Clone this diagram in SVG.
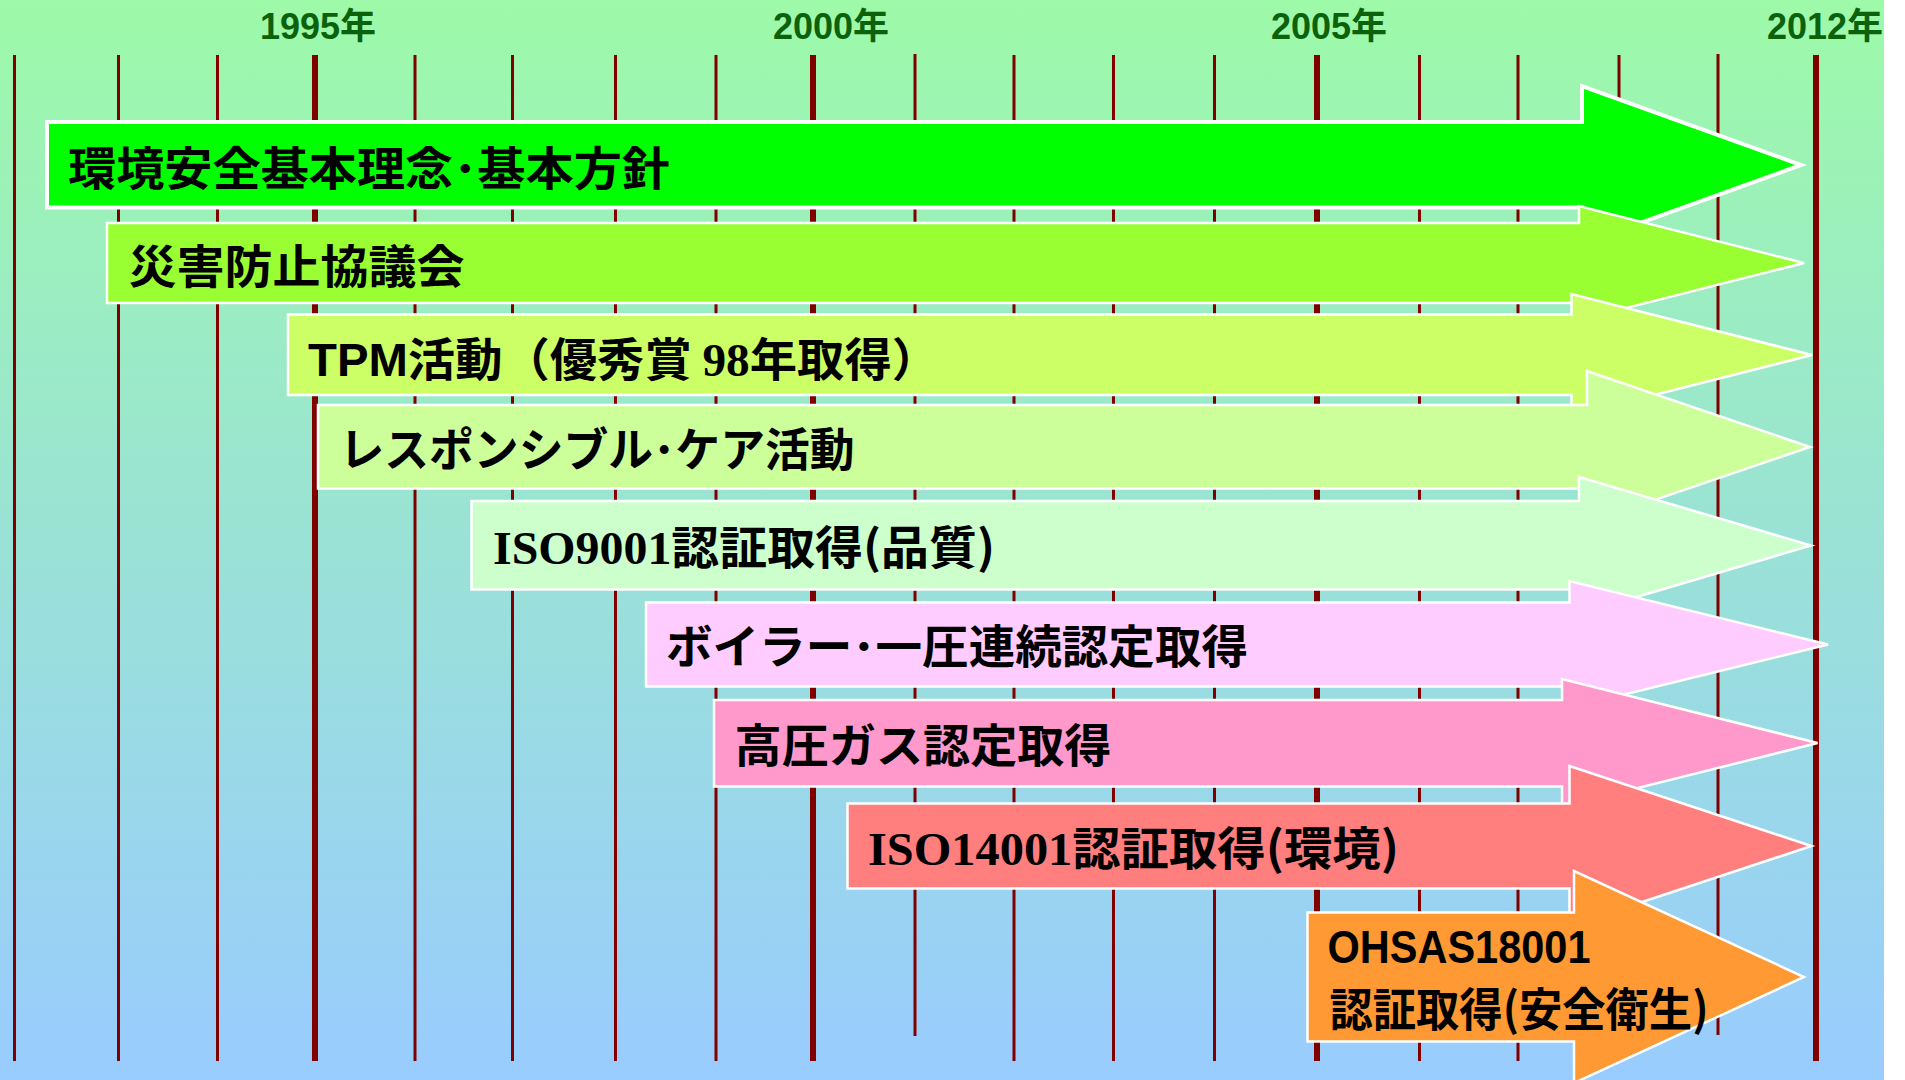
<svg xmlns="http://www.w3.org/2000/svg" width="1905" height="1080" viewBox="0 0 1905 1080">
  <defs>
    <linearGradient id="bg" x1="0" y1="0" x2="0" y2="1">
      <stop offset="0" stop-color="#9DFAA8"/>
      <stop offset="0.5" stop-color="#9AE2D6"/>
      <stop offset="1" stop-color="#99CCFF"/>
    </linearGradient>
    <style>
      .grid line { stroke: #800000; }
      .thin { stroke-width: 3; }
      .thick { stroke-width: 6; }
      .year { font-family: "Liberation Sans", "Noto Sans CJK JP", sans-serif; font-weight: bold; font-size: 36px; fill: #0B620B; }
      .arrow polygon { stroke: #FFFFFF; stroke-width: 2.5; stroke-linejoin: miter; }
      .label { font-family: "Noto Sans CJK JP", "Liberation Sans", sans-serif; font-weight: bold; font-size: 46px; fill: #000000; }
      .sans { font-family: "Liberation Sans", "Noto Sans CJK JP", sans-serif; }
      .serif { font-family: "Liberation Serif", "Noto Sans CJK JP", serif; }
    </style>
  </defs>

  <rect x="0" y="0" width="1905" height="1080" fill="#FFFFFF"/>
  <rect id="background" x="0" y="0" width="1884" height="1080" fill="url(#bg)"/>

  <g id="years">
    <text class="year" x="260" y="39">1995年</text>
    <text class="year" x="773" y="39">2000年</text>
    <text class="year" x="1271" y="39">2005年</text>
    <text class="year" x="1767" y="39">2012年</text>
  </g>

  <g id="gridlines" class="grid">
    <line class="thin" x1="14.5" y1="55" x2="14.5" y2="1061"/>
    <line class="thin" x1="118.5" y1="55" x2="118.5" y2="1061"/>
    <line class="thin" x1="217.5" y1="55" x2="217.5" y2="1061"/>
    <line class="thick" x1="315" y1="55" x2="315" y2="1061"/>
    <line class="thin" x1="415" y1="55" x2="415" y2="1061"/>
    <line class="thin" x1="512.5" y1="55" x2="512.5" y2="1061"/>
    <line class="thin" x1="615.5" y1="55" x2="615.5" y2="1061"/>
    <line class="thin" x1="716" y1="55" x2="716" y2="1061"/>
    <line class="thick" x1="813" y1="55" x2="813" y2="1061"/>
    <line class="thin" x1="915" y1="54" x2="915" y2="1036"/>
    <line class="thin" x1="1014" y1="55" x2="1014" y2="1061"/>
    <line class="thin" x1="1113.5" y1="55" x2="1113.5" y2="1061"/>
    <line class="thin" x1="1214.5" y1="55" x2="1214.5" y2="1061"/>
    <line class="thick" x1="1317" y1="55" x2="1317" y2="1061"/>
    <line class="thin" x1="1419.5" y1="55" x2="1419.5" y2="1061"/>
    <line class="thin" x1="1518" y1="55" x2="1518" y2="1061"/>
    <line class="thin" x1="1619" y1="55" x2="1619" y2="1061"/>
    <line class="thin" x1="1718" y1="54" x2="1718" y2="1035"/>
    <line class="thick" x1="1816" y1="55" x2="1816" y2="1061"/>
  </g>

  <g id="arrow1" class="arrow">
    <polygon points="47,122 1582,122 1582,86 1801,165 1582,244 1582,207.5 47,207.5" fill="#00FF00" style="stroke-width:4"/>
    <text class="label" x="68" y="185" textLength="602" lengthAdjust="spacingAndGlyphs">環境安全基本理念･基本方針</text>
  </g>

  <g id="arrow2" class="arrow">
    <polygon points="107,223 1579,223 1579,206 1804,263 1579,320 1579,303 107,303" fill="#99FF33"/>
    <text class="label" x="128.5" y="282.5" textLength="336" lengthAdjust="spacingAndGlyphs">災害防止協議会</text>
  </g>

  <g id="arrow3" class="arrow">
    <polygon points="288,314.5 1571.5,314.5 1571.5,294 1812,355 1571.5,416 1571.5,395 288,395" fill="#CCFF66"/>
    <text class="label" x="308" y="376" textLength="631" lengthAdjust="spacingAndGlyphs"><tspan class="sans">TPM</tspan>活動（優秀賞 <tspan class="serif">98</tspan>年取得）</text>
  </g>

  <g id="arrow4" class="arrow">
    <polygon points="318,405 1587,405 1587,371 1810,447 1587,523 1587,488.5 318,488.5" fill="#CCFF99"/>
    <text class="label" x="339.5" y="466" textLength="515" lengthAdjust="spacingAndGlyphs">レスポンシブル･ケア活動</text>
  </g>

  <g id="arrow5" class="arrow">
    <polygon points="471.5,501 1579,501 1579,477 1811,545.5 1579,614 1579,589.5 471.5,589.5" fill="#CCFFCC"/>
    <text class="label" x="493" y="564" textLength="502" lengthAdjust="spacingAndGlyphs"><tspan class="serif">ISO9001</tspan>認証取得(品質)</text>
  </g>

  <g id="arrow6" class="arrow">
    <polygon points="646,602.5 1569.5,602.5 1569.5,581 1828,644.5 1569.5,708 1569.5,686.5 646,686.5" fill="#FFCCFF"/>
    <text class="label" x="666" y="663" textLength="582" lengthAdjust="spacingAndGlyphs">ボイラー･一圧連続認定取得</text>
  </g>

  <g id="arrow7" class="arrow">
    <polygon points="714,700 1562,700 1562,679 1817.5,743 1562,807 1562,786.5 714,786.5" fill="#FF99CC"/>
    <text class="label" x="734.5" y="761.5" textLength="377" lengthAdjust="spacingAndGlyphs">高圧ガス認定取得</text>
  </g>

  <g id="arrow8" class="arrow">
    <polygon points="847.5,803.5 1569.5,803.5 1569.5,766 1811.5,846 1569.5,926 1569.5,888.5 847.5,888.5" fill="#FF7F7F"/>
    <text class="label" x="868" y="865" textLength="531" lengthAdjust="spacingAndGlyphs"><tspan class="serif">ISO14001</tspan>認証取得(環境)</text>
  </g>

  <g id="arrow9" class="arrow">
    <polygon points="1307.5,912.5 1574,912.5 1574,871 1804,977 1574,1083 1574,1041.5 1307.5,1041.5" fill="#FF9933"/>
    <text class="label sans" x="1327.5" y="963" font-size="42" textLength="263" lengthAdjust="spacingAndGlyphs">OHSAS18001</text>
    <text class="label" x="1329.5" y="1026" font-size="43" textLength="379" lengthAdjust="spacingAndGlyphs">認証取得(安全衛生)</text>
  </g>
</svg>
